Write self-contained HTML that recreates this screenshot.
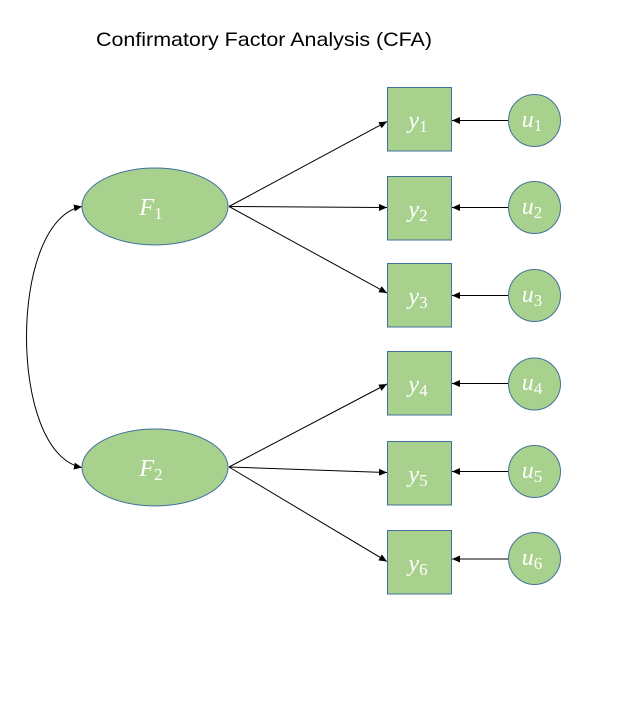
<!DOCTYPE html>
<html>
<head>
<meta charset="utf-8">
<style>
  html,body{margin:0;padding:0;background:#fff;}
  svg{display:block;}
  .t{font-family:"Liberation Serif",serif;fill:#fff;font-size:24px;}
  .it{font-style:italic;}
</style>
</head>
<body>
<svg width="623" height="720" viewBox="0 0 623 720" xmlns="http://www.w3.org/2000/svg">
  <defs>
    <marker id="ah" markerUnits="userSpaceOnUse" markerWidth="9" markerHeight="8" refX="8" refY="3.5" orient="auto-start-reverse">
      <path d="M0,0 L8,3.5 L0,7 z" fill="#000"/>
    </marker>
  </defs>
  <rect width="623" height="720" fill="#fff"/>

  <text x="96" y="46" font-family="Liberation Sans, sans-serif" font-size="19.5" fill="#000" textLength="336" lengthAdjust="spacingAndGlyphs">Confirmatory Factor Analysis (CFA)</text>

  <!-- covariance curve -->
  <path d="M82,206.5 C8,220 8,454 82,467.5" fill="none" stroke="#000" stroke-width="1" marker-start="url(#ah)" marker-end="url(#ah)"/>

  <!-- factor loadings -->
  <g stroke="#000" stroke-width="1" fill="none" marker-end="url(#ah)">
    <line x1="229" y1="206.5" x2="387" y2="121.5"/>
    <line x1="229" y1="206.5" x2="387" y2="207.5"/>
    <line x1="229" y1="206.5" x2="387" y2="293"/>
    <line x1="229" y1="467" x2="387" y2="384"/>
    <line x1="229" y1="467" x2="387" y2="472.5"/>
    <line x1="229" y1="467" x2="387" y2="561.5"/>
    <line x1="508" y1="120.5" x2="452" y2="120.5"/>
    <line x1="508" y1="207.5" x2="452" y2="207.5"/>
    <line x1="508" y1="295.5" x2="452" y2="295.5"/>
    <line x1="508" y1="383.5" x2="452" y2="383.5"/>
    <line x1="508" y1="471.5" x2="452" y2="471.5"/>
    <line x1="508" y1="559" x2="452" y2="559"/>
  </g>

  <!-- factors -->
  <g fill="#A9D18E" stroke="#41719C" stroke-width="1">
    <ellipse cx="155" cy="206.5" rx="73" ry="38.5"/>
    <ellipse cx="155" cy="467.5" rx="73" ry="38.5"/>
  </g>

  <!-- observed -->
  <g fill="#A9D18E" stroke="#41719C" stroke-width="1">
    <rect x="387.5" y="87.5" width="64" height="63.5"/>
    <rect x="387.5" y="176.5" width="64" height="63.5"/>
    <rect x="387.5" y="263.5" width="64" height="63.5"/>
    <rect x="387.5" y="351.5" width="64" height="63.5"/>
    <rect x="387.5" y="441.5" width="64" height="63.5"/>
    <rect x="387.5" y="530.5" width="64" height="63.5"/>
  </g>

  <!-- errors -->
  <g fill="#A9D18E" stroke="#41719C" stroke-width="1">
    <circle cx="534.5" cy="120.5" r="26"/>
    <circle cx="534.5" cy="207.5" r="26"/>
    <circle cx="534.5" cy="295.5" r="26"/>
    <circle cx="534.5" cy="384" r="26"/>
    <circle cx="534.5" cy="471.5" r="26"/>
    <circle cx="534.5" cy="558.5" r="26"/>
  </g>

  <!-- labels -->
  <text class="t" x="151" y="215" text-anchor="middle"><tspan class="it">F</tspan><tspan font-size="17" dy="4">1</tspan></text>
  <text class="t" x="151" y="476" text-anchor="middle"><tspan class="it">F</tspan><tspan font-size="17" dy="4">2</tspan></text>

  <text class="t" x="418" y="128" text-anchor="middle"><tspan class="it">y</tspan><tspan font-size="17" dy="4">1</tspan></text>
  <text class="t" x="418" y="217" text-anchor="middle"><tspan class="it">y</tspan><tspan font-size="17" dy="4">2</tspan></text>
  <text class="t" x="418" y="304" text-anchor="middle"><tspan class="it">y</tspan><tspan font-size="17" dy="4">3</tspan></text>
  <text class="t" x="418" y="392" text-anchor="middle"><tspan class="it">y</tspan><tspan font-size="17" dy="4">4</tspan></text>
  <text class="t" x="418" y="482" text-anchor="middle"><tspan class="it">y</tspan><tspan font-size="17" dy="4">5</tspan></text>
  <text class="t" x="418" y="571" text-anchor="middle"><tspan class="it">y</tspan><tspan font-size="17" dy="4">6</tspan></text>

  <text class="t" x="532" y="127" text-anchor="middle"><tspan class="it">u</tspan><tspan font-size="17" dy="4">1</tspan></text>
  <text class="t" x="532" y="214" text-anchor="middle"><tspan class="it">u</tspan><tspan font-size="17" dy="4">2</tspan></text>
  <text class="t" x="532" y="302" text-anchor="middle"><tspan class="it">u</tspan><tspan font-size="17" dy="4">3</tspan></text>
  <text class="t" x="532" y="390" text-anchor="middle"><tspan class="it">u</tspan><tspan font-size="17" dy="4">4</tspan></text>
  <text class="t" x="532" y="478" text-anchor="middle"><tspan class="it">u</tspan><tspan font-size="17" dy="4">5</tspan></text>
  <text class="t" x="532" y="565" text-anchor="middle"><tspan class="it">u</tspan><tspan font-size="17" dy="4">6</tspan></text>
</svg>
</body>
</html>
